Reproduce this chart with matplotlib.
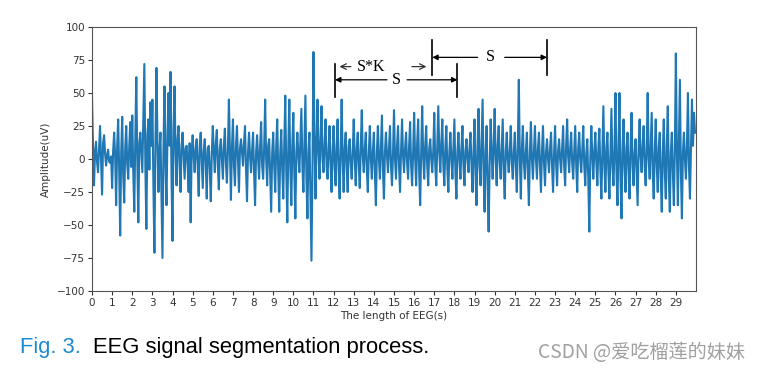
import numpy as np
import matplotlib
matplotlib.use("Agg")
import matplotlib.pyplot as plt

# EEG amplitude (uV), 20 samples per second (one row per second)
eeg_values = [
    47, 10, -20, 5, 13, -2, -10, 8, 25, 0, -27, 12, 18, 4, -5, 3, 7, -2, -3, 2,
    -22, 6, 20, 2, -35, 10, 30, -8, -58, 5, 32, -12, -33, 8, 25, -4, -15, 10, 28, -6,
    33, -10, -40, 15, 62, 0, -48, 12, 20, 5, -10, 30, 72, -5, -53, 18, 30, -8, 43, 10,
    45, -20, -71, 10, 69, 15, -25, 5, 20, -30, -75, 8, 55, -5, -35, 20, 50, 10, 66, -15,
    -62, 25, 55, 5, -20, 15, 25, -5, -25, 10, 20, 2, -15, 8, 10, -5, -25, 12, -48, 5,
    18, 2, -10, 8, 15, -5, -28, 10, 20, 0, -22, 6, 15, -3, -30, 8, 10, -8, -32, 4,
    25, 5, -10, 12, 22, -5, -23, 8, 15, 0, -15, 10, 23, -3, -18, 6, 45, 5, -31, 8,
    30, -5, -20, 10, 25, 0, -25, 8, 15, 5, -5, 12, 25, -8, -32, 5, 20, 2, -10, 6,
    20, -10, -35, 5, 18, 0, -15, 10, 28, -5, -15, 8, 45, 0, -20, 10, 15, -12, -40, 5,
    20, -5, -25, 10, 30, -10, -40, 5, 22, -8, -30, 12, 48, -10, -48, 8, 45, -5, -35, 10,
    35, -12, -45, 5, 20, 2, -10, 15, 38, -5, -25, 10, 48, -15, -45, 5, 20, -30, -77, -10,
    81, 20, -30, 10, 45, 5, -15, 15, 40, 0, -10, 12, 30, -5, -15, 8, 25, -5, -25, 5,
    25, -5, -20, 10, 30, -8, -30, 5, 45, 0, -25, 8, 20, -5, -25, 10, 15, -3, -15, 5,
    30, 0, -20, 8, 20, -5, -22, 10, 37, 2, -10, 8, 20, -8, -25, 5, 25, 0, -15, 6,
    20, -10, -35, 5, 25, 0, -15, 10, 33, -8, -30, 5, 20, 3, -10, 8, 25, -5, -20, 4,
    37, 0, -15, 10, 25, -5, -25, 6, 30, 2, -10, 8, 20, -3, -15, 10, 28, -5, -20, 5,
    35, 0, -20, 12, 30, -10, -35, 5, 40, 2, -15, 10, 25, -5, -20, 8, 15, 0, -10, 6,
    35, -5, -20, 10, 40, 5, -10, 12, 30, -5, -20, 8, 25, -8, -25, 5, 20, 0, -15, 8,
    30, -10, -30, 5, 20, 0, -15, 8, 25, -5, -20, 6, 15, 0, -10, 8, 20, -5, -25, 5,
    30, -12, -35, 10, 38, -5, -20, 12, 45, -10, -40, 5, 25, -20, -55, -5, 30, 5, -15, 10,
    38, 0, -20, 10, 25, -3, -15, 8, 30, -10, -30, 5, 20, 0, -10, 6, 25, -3, -15, 5,
    20, -5, -25, 10, 60, 0, -30, 8, 25, -3, -15, 6, 20, -10, -35, 5, 28, 0, -15, 5,
    25, 0, -15, 8, 20, -5, -25, 6, 25, -3, -20, 5, 15, 0, -10, 8, 20, -5, -25, 4,
    25, -3, -20, 6, 15, 0, -10, 8, 25, -5, -20, 10, 30, 2, -10, 8, 20, -3, -15, 5,
    25, -5, -25, 8, 20, 0, -10, 6, 25, -5, -20, 4, 15, -15, -55, 0, 25, 2, -15, 6,
    20, -3, -20, 8, 23, -8, -30, 5, 40, -5, -25, 8, 20, -10, -30, 5, 38, -5, -20, 6,
    50, -10, -35, 10, 50, -15, -45, 5, 30, -5, -25, 8, 20, -10, -30, 10, 35, -5, -20, 5,
    15, -10, -35, 8, 30, 2, -10, 10, 25, -5, -20, 8, 50, 0, -15, 10, 35, -10, -30, 5,
    30, -5, -25, 8, 20, -15, -40, 5, 30, -10, -30, 10, 40, -15, -40, 5, 20, -10, -35, 8,
    80, 5, -35, 15, 60, -10, -45, 5, 20, 0, -15, 10, 50, -5, -30, 8, 45, 10, 35, 20,
]
sample_rate = 20
time_s = np.arange(len(eeg_values)) / sample_rate

x_ticks = list(range(0, 30))
y_ticks = [-100, -75, -50, -25, 0, 25, 50, 75, 100]

# segmentation markers (seconds)
seg1_start, seg1_end = 12.07, 18.15
seg2_start, seg2_end = 16.9, 22.6

fig = plt.figure(figsize=(7.62, 3.70), dpi=100)
ax = fig.add_axes([92/762, 1-291/370, (696-92)/762, (291-27)/370])
ax.plot(time_s, eeg_values, color="#1f77b4", lw=1.5)
ax.set_xlim(0, 30)
ax.set_ylim(-100, 100)
ax.set_xticks(x_ticks)
ax.set_yticks(y_ticks)
ax.tick_params(labelsize=7.5, length=3, pad=2, colors="#333333")
for s in ax.spines.values():
    s.set_color("#555555")
ax.set_xlabel("The length of EEG(s)", fontsize=7.5, labelpad=2, color="#333333")
ax.set_ylabel("Amplitude(uV)", fontsize=7.5, labelpad=4, color="#333333")

# vertical bars
ax.plot([seg1_start, seg1_start], [47, 72], color="black", lw=1.2)
ax.plot([seg1_end, seg1_end], [47, 72], color="black", lw=1.2)
ax.plot([seg2_start, seg2_start], [64, 90], color="black", lw=1.2)
ax.plot([seg2_end, seg2_end], [64, 90], color="black", lw=1.2)

serif = "Liberation Serif"
# S*K
yk = 70
ax.annotate("", xy=(12.15, yk), xytext=(13.0, yk),
            arrowprops=dict(arrowstyle="->", color="#333333", lw=0.9))
ax.text(13.86, yk, "S*K", ha="center", va="center", fontsize=11.5, family=serif)
ax.annotate("", xy=(16.75, yk), xytext=(15.75, yk),
            arrowprops=dict(arrowstyle="->", color="#333333", lw=0.9))
# lower S
ys = 60
ax.annotate("", xy=(seg1_start, ys), xytext=(14.65, ys),
            arrowprops=dict(arrowstyle="-|>", color="black", lw=0.9, mutation_scale=8, shrinkA=0, shrinkB=0))
ax.text(15.1, ys, "S", ha="center", va="center", fontsize=11.5, family=serif)
ax.annotate("", xy=(seg1_end, ys), xytext=(15.65, ys),
            arrowprops=dict(arrowstyle="-|>", color="black", lw=0.9, mutation_scale=8, shrinkA=0, shrinkB=0))
# upper S
yu = 77
ax.annotate("", xy=(seg2_start, yu), xytext=(19.15, yu),
            arrowprops=dict(arrowstyle="-|>", color="black", lw=0.9, mutation_scale=8, shrinkA=0, shrinkB=0))
ax.text(19.8, yu, "S", ha="center", va="center", fontsize=11.5, family=serif)
ax.annotate("", xy=(seg2_end, yu), xytext=(20.5, yu),
            arrowprops=dict(arrowstyle="-|>", color="black", lw=0.9, mutation_scale=8, shrinkA=0, shrinkB=0))

# caption
fig.text(20/762, 1-348/370, "Fig. 3.", color="#1a8ad4", fontsize=15.8,
         family="Liberation Sans", va="center", ha="left")
fig.text(93/762, 1-348/370, "EEG signal segmentation process.", color="black", fontsize=15.8,
         family="Liberation Sans", va="center", ha="left")
fig.text(745/762, 1-352/370, "CSDN @爱吃榴莲的妹妹", color="#a0a0a0", fontsize=13.8,
         family=["Noto Sans CJK SC", "DejaVu Sans"], va="center", ha="right")

fig.savefig("out.png", dpi=100)
